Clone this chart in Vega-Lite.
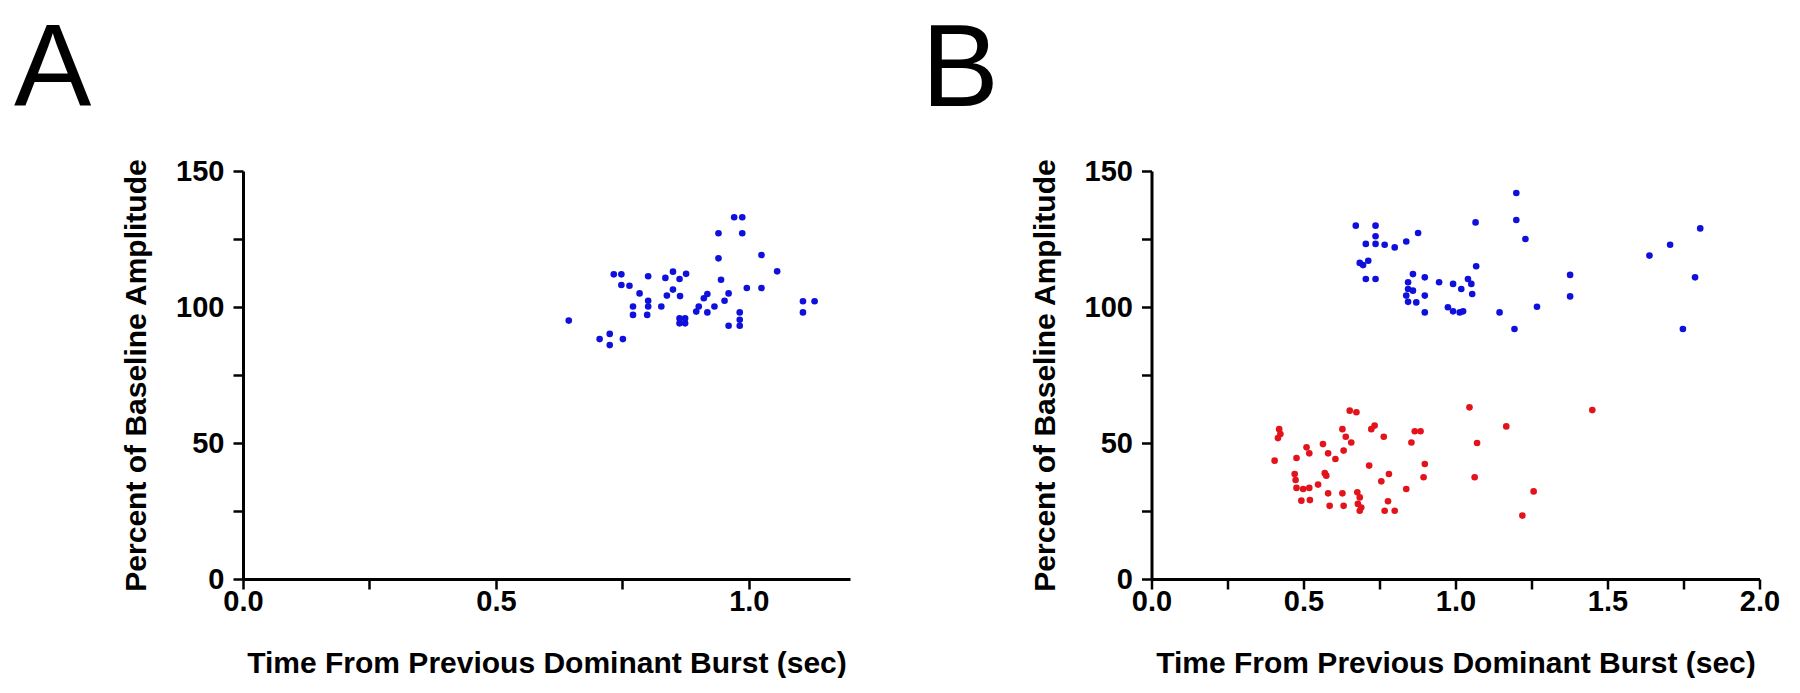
{
  "$schema": "https://vega.github.io/schema/vega-lite/v6.json",
  "padding": {"left": 14, "top": 13, "right": 0, "bottom": 0},
  "background": "white",
  "spacing": 71.5,
  "config": {
    "view": {"stroke": null},
    "font": "Liberation Sans",
    "axis": {
      "grid": false,
      "domainColor": "black",
      "domainWidth": 3,
      "tickColor": "black",
      "tickWidth": 2.5,
      "tickSize": 10,
      "labelFont": "Liberation Sans",
      "labelFontWeight": "bold",
      "labelFontSize": 29,
      "labelColor": "black",
      "titleFont": "Liberation Sans",
      "titleFontWeight": "bold",
      "titleFontSize": 30,
      "titleColor": "black"
    },
    "axisX": {"labelPadding": -2, "titlePadding": 32, "labelFlush": false},
    "axisY": {"labelPadding": 9, "titlePadding": 24},
    "title": {"font": "Liberation Sans", "fontSize": 116, "fontWeight": "normal", "color": "black", "anchor": "start", "frame": "group", "baseline": "alphabetic"}
  },
  "datasets": {
    "a": [
      {"t": 0.644, "pct": 95.0}, {"t": 0.705, "pct": 88.2}, {"t": 0.725, "pct": 90.1}, {"t": 0.725, "pct": 86.0},
      {"t": 0.751, "pct": 88.2}, {"t": 0.733, "pct": 112.0}, {"t": 0.748, "pct": 112.0}, {"t": 0.748, "pct": 108.1},
      {"t": 0.764, "pct": 107.8}, {"t": 0.784, "pct": 105.0}, {"t": 0.771, "pct": 100.2}, {"t": 0.771, "pct": 97.1},
      {"t": 0.801, "pct": 111.3}, {"t": 0.801, "pct": 102.3}, {"t": 0.801, "pct": 100.2}, {"t": 0.799, "pct": 97.1},
      {"t": 0.827, "pct": 100.2}, {"t": 0.835, "pct": 110.7}, {"t": 0.850, "pct": 113.0}, {"t": 0.838, "pct": 104.2},
      {"t": 0.850, "pct": 106.4}, {"t": 0.863, "pct": 110.3}, {"t": 0.876, "pct": 112.2}, {"t": 0.864, "pct": 104.0},
      {"t": 0.863, "pct": 95.8}, {"t": 0.874, "pct": 95.8}, {"t": 0.863, "pct": 94.0}, {"t": 0.874, "pct": 94.0},
      {"t": 0.896, "pct": 98.3}, {"t": 0.901, "pct": 100.2}, {"t": 0.911, "pct": 103.2}, {"t": 0.918, "pct": 104.8},
      {"t": 0.918, "pct": 98.0}, {"t": 0.932, "pct": 100.2}, {"t": 0.952, "pct": 102.3}, {"t": 0.960, "pct": 105.0},
      {"t": 0.945, "pct": 110.0}, {"t": 0.940, "pct": 117.9}, {"t": 0.940, "pct": 127.1}, {"t": 0.971, "pct": 133.0},
      {"t": 0.987, "pct": 133.0}, {"t": 0.987, "pct": 127.1}, {"t": 0.982, "pct": 98.0}, {"t": 0.982, "pct": 95.3},
      {"t": 0.982, "pct": 93.1}, {"t": 0.960, "pct": 93.1}, {"t": 0.996, "pct": 107.0}, {"t": 1.025, "pct": 119.1},
      {"t": 1.025, "pct": 107.0}, {"t": 1.056, "pct": 113.1}, {"t": 1.107, "pct": 102.1}, {"t": 1.130, "pct": 102.1},
      {"t": 1.107, "pct": 98.0}
    ],
    "b": [
      {"t": 0.672, "pct": 129.9, "g": "blue"}, {"t": 0.737, "pct": 129.9, "g": "blue"}, {"t": 0.737, "pct": 126.0, "g": "blue"},
      {"t": 0.705, "pct": 123.2, "g": "blue"}, {"t": 0.737, "pct": 123.2, "g": "blue"}, {"t": 0.767, "pct": 122.9, "g": "blue"},
      {"t": 0.800, "pct": 121.9, "g": "blue"}, {"t": 0.838, "pct": 124.1, "g": "blue"}, {"t": 0.877, "pct": 127.2, "g": "blue"},
      {"t": 0.685, "pct": 116.2, "g": "blue"}, {"t": 0.713, "pct": 117.0, "g": "blue"}, {"t": 0.696, "pct": 115.4, "g": "blue"},
      {"t": 0.705, "pct": 110.3, "g": "blue"}, {"t": 0.737, "pct": 110.3, "g": "blue"}, {"t": 0.860, "pct": 112.1, "g": "blue"},
      {"t": 0.899, "pct": 110.9, "g": "blue"}, {"t": 0.844, "pct": 109.1, "g": "blue"}, {"t": 0.844, "pct": 106.6, "g": "blue"},
      {"t": 0.838, "pct": 104.2, "g": "blue"}, {"t": 0.844, "pct": 101.9, "g": "blue"}, {"t": 0.871, "pct": 101.7, "g": "blue"},
      {"t": 0.899, "pct": 104.2, "g": "blue"}, {"t": 0.899, "pct": 98.0, "g": "blue"}, {"t": 0.860, "pct": 106.0, "g": "blue"},
      {"t": 0.946, "pct": 109.1, "g": "blue"}, {"t": 0.992, "pct": 108.5, "g": "blue"}, {"t": 1.019, "pct": 106.6, "g": "blue"},
      {"t": 1.041, "pct": 110.3, "g": "blue"}, {"t": 1.052, "pct": 108.5, "g": "blue"}, {"t": 1.055, "pct": 104.8, "g": "blue"},
      {"t": 0.975, "pct": 99.9, "g": "blue"}, {"t": 0.992, "pct": 98.4, "g": "blue"}, {"t": 1.014, "pct": 98.0, "g": "blue"},
      {"t": 1.025, "pct": 98.4, "g": "blue"}, {"t": 1.066, "pct": 131.1, "g": "blue"}, {"t": 1.068, "pct": 115.0, "g": "blue"},
      {"t": 1.145, "pct": 98.0, "g": "blue"}, {"t": 1.200, "pct": 141.9, "g": "blue"}, {"t": 1.200, "pct": 132.0, "g": "blue"},
      {"t": 1.230, "pct": 125.0, "g": "blue"}, {"t": 1.194, "pct": 91.9, "g": "blue"}, {"t": 1.268, "pct": 100.1, "g": "blue"},
      {"t": 1.377, "pct": 111.8, "g": "blue"}, {"t": 1.377, "pct": 103.9, "g": "blue"}, {"t": 1.638, "pct": 118.9, "g": "blue"},
      {"t": 1.706, "pct": 122.9, "g": "blue"}, {"t": 1.805, "pct": 128.9, "g": "blue"}, {"t": 1.788, "pct": 110.9, "g": "blue"},
      {"t": 1.748, "pct": 91.9, "g": "blue"},
      {"t": 0.420, "pct": 55.1, "g": "red"}, {"t": 0.424, "pct": 53.3, "g": "red"}, {"t": 0.416, "pct": 51.8, "g": "red"},
      {"t": 0.405, "pct": 43.5, "g": "red"}, {"t": 0.477, "pct": 44.5, "g": "red"}, {"t": 0.510, "pct": 48.4, "g": "red"},
      {"t": 0.519, "pct": 46.2, "g": "red"}, {"t": 0.471, "pct": 38.6, "g": "red"}, {"t": 0.474, "pct": 36.4, "g": "red"},
      {"t": 0.477, "pct": 33.5, "g": "red"}, {"t": 0.499, "pct": 33.1, "g": "red"}, {"t": 0.519, "pct": 33.5, "g": "red"},
      {"t": 0.493, "pct": 28.8, "g": "red"}, {"t": 0.521, "pct": 29.0, "g": "red"}, {"t": 0.548, "pct": 34.7, "g": "red"},
      {"t": 0.564, "pct": 49.6, "g": "red"}, {"t": 0.581, "pct": 46.2, "g": "red"}, {"t": 0.605, "pct": 44.1, "g": "red"},
      {"t": 0.570, "pct": 38.9, "g": "red"}, {"t": 0.575, "pct": 38.0, "g": "red"}, {"t": 0.581, "pct": 31.5, "g": "red"},
      {"t": 0.586, "pct": 26.9, "g": "red"}, {"t": 0.628, "pct": 55.1, "g": "red"}, {"t": 0.639, "pct": 52.3, "g": "red"},
      {"t": 0.657, "pct": 50.2, "g": "red"}, {"t": 0.632, "pct": 47.2, "g": "red"}, {"t": 0.628, "pct": 31.5, "g": "red"},
      {"t": 0.632, "pct": 26.9, "g": "red"}, {"t": 0.652, "pct": 61.9, "g": "red"}, {"t": 0.674, "pct": 61.3, "g": "red"},
      {"t": 0.677, "pct": 31.9, "g": "red"}, {"t": 0.685, "pct": 30.0, "g": "red"}, {"t": 0.679, "pct": 27.6, "g": "red"},
      {"t": 0.690, "pct": 26.3, "g": "red"}, {"t": 0.685, "pct": 25.1, "g": "red"}, {"t": 0.716, "pct": 41.7, "g": "red"},
      {"t": 0.723, "pct": 55.1, "g": "red"}, {"t": 0.734, "pct": 56.4, "g": "red"}, {"t": 0.764, "pct": 52.3, "g": "red"},
      {"t": 0.756, "pct": 35.9, "g": "red"}, {"t": 0.781, "pct": 38.6, "g": "red"}, {"t": 0.778, "pct": 28.6, "g": "red"},
      {"t": 0.767, "pct": 25.1, "g": "red"}, {"t": 0.800, "pct": 25.1, "g": "red"}, {"t": 0.838, "pct": 33.1, "g": "red"},
      {"t": 0.855, "pct": 50.2, "g": "red"}, {"t": 0.866, "pct": 54.3, "g": "red"}, {"t": 0.885, "pct": 54.3, "g": "red"},
      {"t": 0.899, "pct": 42.3, "g": "red"}, {"t": 0.895, "pct": 37.4, "g": "red"}, {"t": 1.046, "pct": 63.1, "g": "red"},
      {"t": 1.071, "pct": 50.0, "g": "red"}, {"t": 1.063, "pct": 37.4, "g": "red"}, {"t": 1.167, "pct": 56.1, "g": "red"},
      {"t": 1.257, "pct": 32.2, "g": "red"}, {"t": 1.220, "pct": 23.3, "g": "red"}, {"t": 1.450, "pct": 62.1, "g": "red"}
    ]
  },
  "hconcat": [
    {
      "title": {"text": "A", "dx": -229, "offset": 27},
      "width": 607,
      "height": 408,
      "data": {"name": "a"},
      "mark": {"type": "point", "filled": true, "size": 44, "opacity": 1, "color": "#1010dd"},
      "encoding": {
        "x": {
          "field": "t", "type": "quantitative",
          "scale": {"domain": [0, 1.2], "nice": false, "zero": false},
          "axis": {"title": "Time From Previous Dominant Burst (sec)", "values": [0, 0.25, 0.5, 0.75, 1.0], "format": ".1f",
                   "labelExpr": "abs(datum.value * 2 - round(datum.value * 2)) < 0.001 ? datum.label : ''"}
        },
        "y": {
          "field": "pct", "type": "quantitative",
          "scale": {"domain": [0, 150], "nice": false},
          "axis": {"title": "Percent of Baseline Amplitude", "values": [0, 25, 50, 75, 100, 125, 150],
                   "labelExpr": "datum.value % 50 === 0 ? datum.label : ''"}
        }
      }
    },
    {
      "title": {"text": "B", "dx": -230, "offset": 27},
      "width": 608,
      "height": 408,
      "data": {"name": "b"},
      "mark": {"type": "point", "filled": true, "size": 44, "opacity": 1},
      "encoding": {
        "x": {
          "field": "t", "type": "quantitative",
          "scale": {"domain": [0, 2], "nice": false, "zero": false},
          "axis": {"title": "Time From Previous Dominant Burst (sec)", "values": [0, 0.25, 0.5, 0.75, 1.0, 1.25, 1.5, 1.75, 2.0], "format": ".1f",
                   "labelExpr": "abs(datum.value * 2 - round(datum.value * 2)) < 0.001 ? datum.label : ''"}
        },
        "y": {
          "field": "pct", "type": "quantitative",
          "scale": {"domain": [0, 150], "nice": false},
          "axis": {"title": "Percent of Baseline Amplitude", "values": [0, 25, 50, 75, 100, 125, 150],
                   "labelExpr": "datum.value % 50 === 0 ? datum.label : ''"}
        },
        "color": {
          "field": "g", "type": "nominal",
          "scale": {"domain": ["blue", "red"], "range": ["#1010dd", "#e3131b"]},
          "legend": null
        }
      }
    }
  ]
}
